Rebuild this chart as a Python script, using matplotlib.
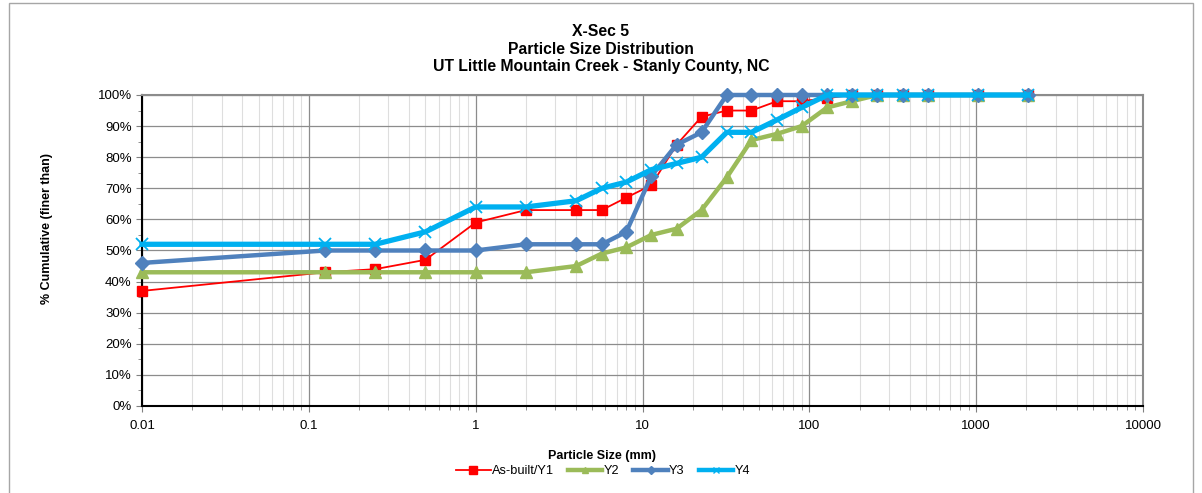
import matplotlib
matplotlib.use("Agg")
import matplotlib.pyplot as plt
from matplotlib.ticker import FixedLocator, FuncFormatter, LogLocator, NullFormatter, MultipleLocator
from matplotlib.patches import Rectangle
from matplotlib.lines import Line2D

plt.rcParams['font.family'] = ['Liberation Sans', 'DejaVu Sans']

sizes = [0.01, 0.125, 0.25, 0.5, 1, 2, 4, 5.7, 8, 11.3, 16, 22.6, 32, 45, 64, 90, 128, 180, 256, 362, 512, 1024, 2048]
y1 = [37, 43, 44, 47, 59, 63, 63, 63, 67, 71, 84, 93, 95, 95, 98, 98, 99, 100, 100, 100, 100, 100, 100]
y2 = [43, 43, 43, 43, 43, 43, 45, 49, 51, 55, 57, 63, 73.5, 85.5, 87.5, 90, 96, 98, 100, 100, 100, 100, 100]
y3 = [46, 50, 50, 50, 50, 52, 52, 52, 56, 74, 84, 88, 100, 100, 100, 100, 100, 100, 100, 100, 100, 100, 100]
y4 = [52, 52, 52, 56, 64, 64, 66, 70, 72, 76, 78, 80, 88, 88, 92, 96, 100, 100, 100, 100, 100, 100, 100]
series_names = ["As-built/Y1", "Y2", "Y3", "Y4"]
x_ticks = [0.01, 0.1, 1, 10, 100, 1000, 10000]
x_ticklabels = ["0.01", "0.1", "1", "10", "100", "1000", "10000"]
title_lines = ["X-Sec 5", "Particle Size Distribution", "UT Little Mountain Creek - Stanly County, NC"]

fig = plt.figure(figsize=(12.02, 4.93), dpi=100)
fig.patches.append(Rectangle((8.5/1202, -0.1), (1193 - 8.5)/1202, 1.1 - 3/493, transform=fig.transFigure,
                             fill=False, edgecolor='#a6a6a6', linewidth=1.0))
ax = fig.add_axes([142/1202, 1 - 406/493, (1143 - 142)/1202, (406 - 95)/493])

ax.set_xscale('log')
ax.set_xlim(0.01, 10000)
ax.set_ylim(0, 100)

styles = [
    dict(color='#ff0000', lw=1.3, marker='s', ms=7, mfc='#ff0000', mec='#ff0000'),
    dict(color='#9bbb59', lw=3.2, marker='^', ms=9, mfc='#9bbb59', mec='#9bbb59'),
    dict(color='#4f81bd', lw=3.2, marker='D', ms=7, mfc='#4f81bd', mec='#4f81bd'),
    dict(color='#00b0f0', lw=3.8, marker='x', ms=9, mew=1.3, mec='#00b0f0'),
]
for ys, st, nm in zip([y1, y2, y3, y4], styles, series_names):
    ax.plot(sizes, ys, label=nm, zorder=3, clip_on=False, **st)

ax.xaxis.set_major_locator(FixedLocator(x_ticks))
ax.set_xticklabels(x_ticklabels)
ax.xaxis.set_minor_locator(LogLocator(base=10, subs=range(2, 10), numticks=100))
ax.xaxis.set_minor_formatter(NullFormatter())
ax.yaxis.set_major_locator(MultipleLocator(10))
ax.yaxis.set_minor_locator(MultipleLocator(5))
ax.yaxis.set_major_formatter(FuncFormatter(lambda v, p: f"{int(v)}%"))

ax.grid(which='major', color='#8c8c8c', lw=0.9)
ax.grid(which='minor', axis='x', color='#dedede', lw=0.8)
ax.set_axisbelow(True)

for s in ['top', 'right']:
    ax.spines[s].set_color('#8c8c8c')
    ax.spines[s].set_linewidth(1.5)
for s in ['left', 'bottom']:
    ax.spines[s].set_color('#000000')
    ax.spines[s].set_linewidth(1.5)

ax.tick_params(axis='both', which='major', labelsize=9.5, length=4, color='#808080', direction='out')
ax.tick_params(axis='both', which='minor', length=3, color='#808080', direction='out')
ax.tick_params(axis='x', pad=6)

for i, t in enumerate(title_lines):
    fig.text(0.5, 1 - (31 + 18 * i)/493, t, ha='center', va='center', fontsize=11.3, fontweight='bold')

fig.text(47/1202, 1 - 229/493, "% Cumulative (finer than)", rotation=90, ha='center', va='center', fontsize=9, fontweight='bold')
fig.text(602/1202, 1 - 456/493, "Particle Size (mm)", ha='center', va='center', fontsize=9, fontweight='bold')

leg_handles = [
    Line2D([], [], color='#ff0000', lw=1.3, marker='s', ms=5.5),
    Line2D([], [], color='#9bbb59', lw=3.2, marker='^', ms=4.5),
    Line2D([], [], color='#4f81bd', lw=3.2, marker='D', ms=4),
    Line2D([], [], color='#00b0f0', lw=3.2, marker='x', ms=4.5, mew=1.0),
]
fig.legend(leg_handles, series_names, loc='center', bbox_to_anchor=(603/1202, 1 - 471/493), ncol=4, frameon=False,
           fontsize=9.2, handlelength=2.7, columnspacing=1.1, handletextpad=0.1, borderpad=0)

fig.savefig("out.png", dpi=100)
